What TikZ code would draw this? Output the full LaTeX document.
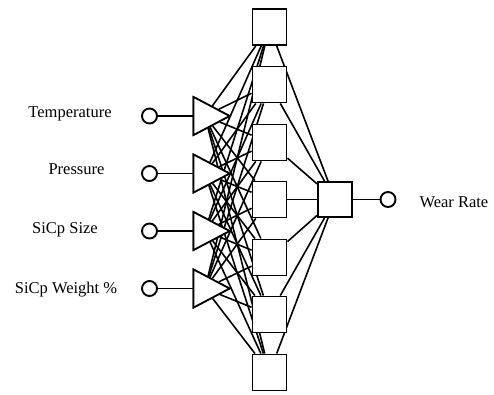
\documentclass[tikz,border=0pt]{standalone}
\usepackage{fontspec}
\setmainfont{Liberation Serif}
\usetikzlibrary{shapes.geometric}
\begin{document}
\begin{tikzpicture}[x=1pt,y=-1pt,
  unit/.style={draw,line width=1.9pt,fill=white,minimum width=34pt,minimum height=36pt,inner sep=0pt},
  tri/.style={draw,line width=1.7pt,fill=white,isosceles triangle,isosceles triangle stretches,
    minimum width=38pt,minimum height=36pt,inner sep=0pt},
  port/.style={draw,line width=1.9pt,fill=white,circle,minimum size=15pt,inner sep=0pt},
  wire/.style={line width=1.6pt},
  lbl/.style={font=\fontsize{16.5}{18}\selectfont}]
\useasboundingbox (0,0) rectangle (494,394);

% hidden layer
\foreach \i/\y in {1/27,2/84.5,3/142.5,4/199.5,5/257.5,6/314.5,7/372.5}
  \node[unit] (h\i) at (269.5,\y) {};
% output unit
\node[unit,minimum height=35pt] (o) at (335,199.5) {};
% input units
\foreach \i/\y in {1/116,2/173.5,3/231,4/288.5}
  \node[tri] (t\i) at (205,\y) {};

% input-to-hidden and hidden-to-output connections
\foreach \i in {1,...,4}
  \foreach \j in {1,...,7}
    \draw[wire] (t\i) -- (h\j);
\foreach \j in {1,...,7}
  \draw[wire] (h\j) -- (o);

% redraw units on top of the wires
\foreach \i/\y in {1/27,2/84.5,3/142.5,4/199.5,5/257.5,6/314.5,7/372.5}
  \node[unit] at (269.5,\y) {};
\node[unit,minimum height=35pt] at (335,199.5) {};
\foreach \i/\y in {1/116,2/173.5,3/231,4/288.5}
  \node[tri] at (205,\y) {};

% input ports and labels
\foreach \i/\y in {1/116,2/173.5,3/231,4/288.5}{
  \node[port] (p\i) at (149.5,\y) {};
  \draw[wire] (p\i) -- (t\i);
}
\node[lbl] (l1) at (70,114) {Temperature};
\node[lbl] (l2) at (76.5,169) {Pressure};
\node[lbl] (l3) at (65,230) {SiCp Size};
\node[lbl] (l4) at (66,290) {SiCp Weight \%};

% output port and label
\node[port] (q) at (388,199.5) {};
\draw[wire] (o) -- (q);
\node[lbl,anchor=west] (lw) at (416,202) {Wear Rate};
\end{tikzpicture}
\end{document}
